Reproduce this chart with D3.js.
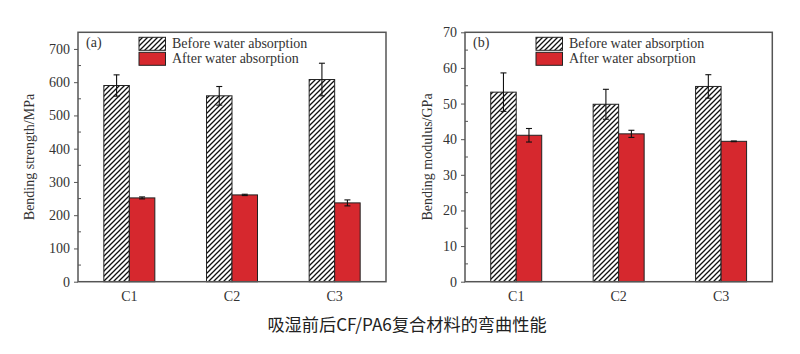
<!DOCTYPE html>
<html><head><meta charset="utf-8">
<script src="https://cdn.jsdelivr.net/npm/d3@7"></script>
<style>body{margin:0;background:#fff}svg{display:block}</style>
</head><body>
<svg id="c" width="800" height="354"></svg>
<script>
const categories = ["C1","C2","C3"];
const seriesNames = ["Before water absorption","After water absorption"];
// panel (a): bending strength (MPa)
const strengthBefore = [590, 559, 608];
const strengthBeforeErr = [32, 28, 49];
const strengthAfter = [252, 261, 237];
const strengthAfterErr = [3, 2, 9];
const strengthTicks = [0,100,200,300,400,500,600,700];
// panel (b): bending modulus (GPa)
const modulusBefore = [53.2, 49.8, 54.8];
const modulusBeforeErr = [5.4, 4.2, 3.3];
const modulusAfter = [41.1, 41.5, 39.4];
const modulusAfterErr = [1.9, 1.0, 0.1];
const modulusTicks = [0,10,20,30,40,50,60,70];
const caption = "吸湿前后CF/PA6复合材料的弯曲性能";

const svg = d3.select("#c");
const RED = "#d6282e";
const TXT = "#333";
const FONT = "'Liberation Serif','Times New Roman',serif";

const defs = svg.append("defs");
const pat = defs.append("pattern").attr("id","hatch").attr("patternUnits","userSpaceOnUse")
  .attr("width",5).attr("height",5);
pat.append("rect").attr("width",5).attr("height",5).attr("fill","#fff");
pat.append("path").attr("d","M-1,1 l2,-2 M0,5 l5,-5 M4,6 l2,-2").attr("stroke","#111").attr("stroke-width",1.3);

function panel(cfg){
  const g = svg.append("g");
  const x = d3.scaleBand().domain(categories).range([cfg.left, cfg.right]);
  const y = d3.scaleLinear().domain([0, cfg.max]).range([cfg.bottom, cfg.top]);
  const bw = 25.5;
  const series = [
    {vals: cfg.before, err: cfg.beforeErr, fill: "url(#hatch)", off: -bw},
    {vals: cfg.after, err: cfg.afterErr, fill: RED, off: 0}
  ];
  series.forEach(s => {
    g.selectAll(null).data(categories).enter().append("rect")
      .attr("x", c => x(c) + x.bandwidth()/2 + s.off)
      .attr("width", bw)
      .attr("y", (c,i) => y(s.vals[i]))
      .attr("height", (c,i) => y(0) - y(s.vals[i]))
      .attr("fill", s.fill).attr("stroke","#222").attr("stroke-width",1);
    const eg = g.selectAll(null).data(categories).enter().append("g");
    eg.each(function(c,i){
      const cx = x(c) + x.bandwidth()/2 + s.off + bw/2;
      const hi = y(s.vals[i] + s.err[i]), lo = y(s.vals[i] - s.err[i]);
      const e = d3.select(this);
      e.append("line").attr("x1",cx).attr("x2",cx).attr("y1",hi).attr("y2",lo);
      e.append("line").attr("x1",cx-3).attr("x2",cx+3).attr("y1",hi).attr("y2",hi);
      e.append("line").attr("x1",cx-3).attr("x2",cx+3).attr("y1",lo).attr("y2",lo);
      e.selectAll("line").attr("stroke","#111").attr("stroke-width",1.1);
    });
  });
  // frame
  g.append("rect").attr("x",cfg.left).attr("y",cfg.top).attr("width",cfg.right-cfg.left)
    .attr("height",cfg.bottom-cfg.top).attr("fill","none").attr("stroke","#555").attr("stroke-width",1.5);
  // y axis major ticks
  const ya = g.append("g").attr("transform",`translate(${cfg.left},0)`)
    .call(d3.axisLeft(y).tickValues(cfg.ticks).tickSize(4).tickPadding(4).tickFormat(d3.format("d")));
  ya.select(".domain").remove();
  ya.selectAll("line").attr("stroke","#555").attr("stroke-width",1);
  ya.selectAll("text").attr("font-family",FONT).attr("font-size",14).attr("fill",TXT);
  // minor ticks (inward)
  const step = cfg.ticks[1]-cfg.ticks[0];
  const minors = cfg.ticks.map(t => t + step/2).filter(v => v < cfg.max);
  g.selectAll(null).data(minors).enter().append("line")
    .attr("x1",cfg.left).attr("x2",cfg.left+3).attr("y1",d=>y(d)).attr("y2",d=>y(d))
    .attr("stroke","#555").attr("stroke-width",1);
  // x axis labels
  const xa = g.append("g").attr("transform",`translate(0,${cfg.bottom})`)
    .call(d3.axisBottom(x).tickSize(0).tickPadding(9));
  xa.select(".domain").remove();
  xa.selectAll("text").attr("font-family",FONT).attr("font-size",14).attr("fill",TXT);
  // y title
  g.append("text").attr("transform",`translate(${cfg.titleX},${(cfg.top+cfg.bottom)/2}) rotate(-90)`)
    .attr("text-anchor","middle").attr("dominant-baseline","central")
    .attr("font-family",FONT).attr("font-size",14).attr("fill",TXT).text(cfg.title);
  // panel label
  g.append("text").attr("x",cfg.left+8).attr("y",cfg.top+15).attr("font-family",FONT)
    .attr("font-size",14).attr("fill",TXT).text(cfg.label);
  // legend
  const lx = cfg.left + cfg.legOff;
  [{fill:"url(#hatch)"},{fill:RED}].forEach((s,i)=>{
    const ly = cfg.top + 5 + i*15;
    g.append("rect").attr("x",lx).attr("y",ly).attr("width",26.5).attr("height",13)
      .attr("fill",s.fill).attr("stroke","#222").attr("stroke-width",1);
    g.append("text").attr("x",lx+33).attr("y",ly+11).attr("font-family",FONT)
      .attr("font-size",14).attr("fill",TXT).text(seriesNames[i]);
  });
}

panel({left:78, right:386, top:32.3, bottom:281.7, max:750,
  before:strengthBefore, beforeErr:strengthBeforeErr, after:strengthAfter, afterErr:strengthAfterErr,
  ticks:strengthTicks, title:"Bending strength/MPa", titleX:29, label:"(a)", legOff:61});
panel({left:465, right:772.3, top:32.3, bottom:281.7, max:70,
  before:modulusBefore, beforeErr:modulusBeforeErr, after:modulusAfter, afterErr:modulusAfterErr,
  ticks:modulusTicks, title:"Bending modulus/GPa", titleX:427, label:"(b)", legOff:71});

svg.append("text").attr("x",407).attr("y",331).attr("text-anchor","middle")
  .attr("font-family","'Noto Sans CJK SC',sans-serif").attr("font-size",17.2).attr("fill","#222")
  .text(caption);
</script>
</body></html>
